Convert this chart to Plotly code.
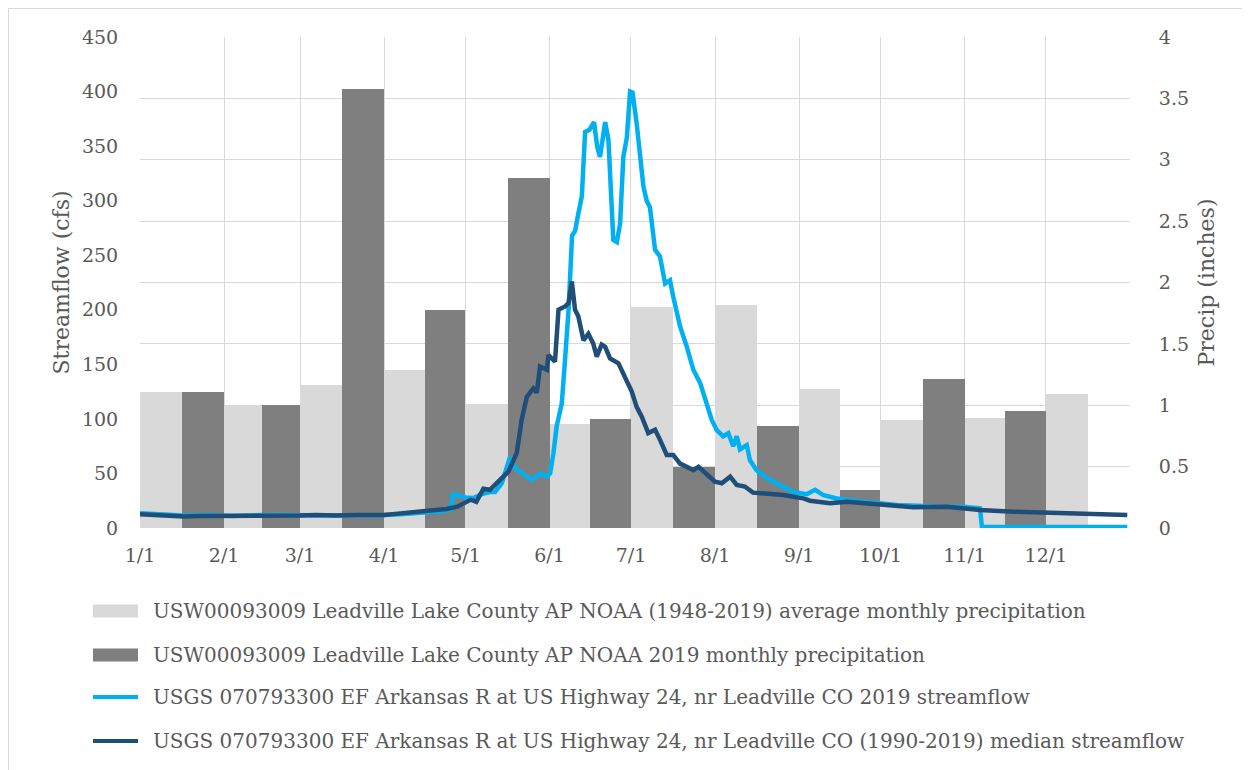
import plotly.graph_objects as go

# ---------------- data ----------------
month_labels = ["1/1", "2/1", "3/1", "4/1", "5/1", "6/1", "7/1", "8/1", "9/1", "10/1", "11/1", "12/1"]
month_start_day = [0, 31, 59, 90, 120, 151, 181, 212, 243, 273, 304, 334]
year_end_day = 365

# monthly precipitation (inches)
precip_avg = [1.11, 0.99, 1.165, 1.285, 1.01, 0.85, 1.80, 1.82, 1.135, 0.88, 0.90, 1.09]
precip_2019 = [1.11, 1.005, 3.575, 1.78, 2.85, 0.89, 0.50, 0.83, 0.31, 1.21, 0.95, None]

# 2019 streamflow (cfs), day of year
flow2019_day = [0, 8, 16, 25, 34, 46, 59, 72, 86, 96, 105, 112, 114.5, 115.5, 117.4, 120,
                122.9, 126, 129, 130.9, 133.4, 135.2, 136.4, 138.3, 141.3, 144.4, 147.5, 150,
                151.2, 152.4, 153.6, 155.5, 156.7, 158, 159.3, 160.4, 161.6, 162.9, 164.1, 165.7,
                167.4, 168.6, 169.6, 171.5, 172.7, 174.5, 175.8, 177, 178.2, 179.5, 180.7, 181.6,
                183.1, 184.4, 185.6, 186.8, 188, 189.9, 191.7, 193.6, 195.4, 196.6, 199.1, 201.6,
                204, 206.5, 209, 210.8, 212.6, 215, 216.9, 218.7, 220, 221.2, 223.7, 224.9,
                227.3, 231, 234.7, 238.4, 240.9, 245.8, 248.9, 252, 256.9, 266.7, 279, 291.3,
                303.6, 309.7, 310.4, 364]
flow2019_cfs = [13.5, 13, 11.5, 12, 11, 12, 11.5, 12, 11.5, 12.5, 14, 15.5, 17, 31, 30, 28,
                27.5, 31, 33, 33, 41, 56, 65, 55, 50, 44, 50, 47,
                50, 68, 93, 114, 154, 200, 268, 272, 288, 304, 363, 365,
                372, 349, 340, 372, 356, 264, 262, 279, 340, 358, 400, 399,
                371, 340, 313, 300, 294, 255, 249, 224, 227, 212, 185, 166,
                145, 133, 114, 99, 90, 84, 87, 75, 84, 72, 76, 62,
                53, 46, 41, 36, 33, 31, 35, 30, 27, 24, 21, 20,
                19.5, 18, 1, 1]

# 1990-2019 median streamflow (cfs), day of year
median_day = [0, 5, 10, 16, 22, 28, 34, 40, 46, 52, 59, 65, 72, 80, 86, 90, 96, 102, 108,
              113, 117, 120, 122, 124, 126.6, 129, 132.7, 135.8, 138.9, 140.7, 142.6, 145,
              146.3, 147.5, 150, 150.6, 153, 154.3, 156.7, 158, 159.2, 160.4, 161.6, 163.5,
              165.3, 167.1, 168.4, 170.2, 171.5, 173.3, 176.4, 178.8, 181.3, 183.1, 185, 187.4,
              189.9, 191.7, 194.2, 196.6, 199.1, 201.6, 204, 205.9, 209, 212, 214.5, 217.6,
              220, 223, 226, 229.8, 233.5, 237.2, 240.9, 244.6, 247, 254.4, 260.6, 272.9,
              285.1, 297.5, 309.7, 322, 334.3, 346.6, 355, 364]
median_cfs = [12.5, 12, 11.5, 10.5, 11, 11, 10.5, 11.5, 11, 11.5, 11.5, 12, 11.5, 12, 12, 12, 13.4, 15, 16,
              17.5, 19.5, 24, 26, 24, 36, 35, 44, 51.6, 68.7, 99, 120, 128,
              124, 148, 145, 158.6, 152.4, 200, 203, 206, 226, 200, 194, 172,
              178, 169, 157, 168, 166, 155.5, 151, 139, 125, 111, 102, 87,
              90, 81, 67, 67, 59, 56, 53, 56, 48.6, 42.4, 41, 47,
              39.4, 38, 32.4, 31.8, 30.2, 30.2, 28.7, 27.2, 25, 22.6, 24, 21,
              19, 19.5, 16.5, 15, 14, 13.4, 12, 12]

assert len(flow2019_day) == len(flow2019_cfs)
assert len(median_day) == len(median_cfs)

series_names = [
    "USW00093009 Leadville Lake County AP NOAA (1948-2019) average monthly precipitation",
    "USW00093009 Leadville Lake County AP NOAA 2019 monthly precipitation",
    "USGS 070793300 EF Arkansas R at US Highway 24, nr Leadville CO 2019 streamflow",
    "USGS 070793300 EF Arkansas R at US Highway 24, nr Leadville CO (1990-2019) median streamflow",
]

# ---------------- styling ----------------
C_LIGHT_BAR = "#D9D9D9"
C_DARK_BAR = "#7F7F7F"
C_FLOW = "#00B0F0"
C_MEDIAN = "#1F4E79"
C_TEXT = "#595959"
C_GRID = "#D9D9D9"
FONT = "DejaVu Serif"
FS_TICK = 19
FS_LEG = 20
FS_TITLE = 22

OFF = 8  # page body margin
W, H = 1250 - OFF, 770 - OFF
# plot area in screen pixels: x 140..1130, y 37..528
SX0, SX1, SY0, SY1 = 140, 1130, 37, 528
PW, PH = SX1 - SX0, SY1 - SY0
L, T = SX0 - OFF, SY0 - OFF
R, B = W - L - PW, H - T - PH


def px(x):
    return (x - SX0) / PW


def py(y):
    return (SY1 - y) / PH


# bar positions: each month split into two halves
bounds = month_start_day + [year_end_day]
mlen = [bounds[i + 1] - bounds[i] for i in range(12)]
x_avg = [bounds[i] + mlen[i] / 4 for i in range(12)]
x_2019 = [bounds[i] + 3 * mlen[i] / 4 for i in range(12)]
w_half = [m / 2 for m in mlen]

fig = go.Figure()
fig.add_trace(go.Bar(x=x_avg, y=precip_avg, width=w_half, marker=dict(color=C_LIGHT_BAR, line_width=0),
                     name=series_names[0], yaxis="y", showlegend=False))
fig.add_trace(go.Bar(x=x_2019, y=precip_2019, width=w_half, marker=dict(color=C_DARK_BAR, line_width=0),
                     name=series_names[1], yaxis="y", showlegend=False))
fig.add_trace(go.Scatter(x=flow2019_day, y=flow2019_cfs, mode="lines", line=dict(color=C_FLOW, width=4.5),
                         name=series_names[2], yaxis="y2", showlegend=False))
fig.add_trace(go.Scatter(x=median_day, y=median_cfs, mode="lines", line=dict(color=C_MEDIAN, width=4.5),
                         name=series_names[3], yaxis="y2", showlegend=False))

fig.update_layout(
    width=W, height=H,
    margin=dict(l=L, r=R, t=T, b=B, autoexpand=False),
    paper_bgcolor="white", plot_bgcolor="white",
    barmode="overlay", bargap=0,
    font=dict(family=FONT, size=FS_TICK, color=C_TEXT),
    xaxis=dict(range=[0, year_end_day], tickmode="array",
               tickvals=month_start_day + [year_end_day], ticktext=month_labels + [""],
               showgrid=True, gridcolor=C_GRID, gridwidth=1, zeroline=False, showline=False,
               ticks="outside", ticklen=10, tickcolor="rgba(0,0,0,0)",
               tickfont=dict(family=FONT, size=FS_TICK, color=C_TEXT)),
    yaxis=dict(range=[0, 4], dtick=0.5, side="right", showgrid=True, gridcolor=C_GRID, gridwidth=1,
               zeroline=False, showline=False, ticks="outside", ticklen=24, tickcolor="rgba(0,0,0,0)",
               tickfont=dict(family=FONT, size=FS_TICK, color=C_TEXT),
               title=dict(text="Precip (inches)", standoff=10,
                          font=dict(family=FONT, size=FS_TITLE, color=C_TEXT))),
    yaxis2=dict(range=[0, 450], dtick=50, side="left", overlaying="y", showgrid=False, zeroline=False,
                showline=False, ticks="outside", ticklen=17, tickcolor="rgba(0,0,0,0)",
                tickfont=dict(family=FONT, size=FS_TICK, color=C_TEXT),
                title=dict(text="Streamflow (cfs)", standoff=6,
                           font=dict(family=FONT, size=FS_TITLE, color=C_TEXT))),
)

shapes = []
# chart border (left & top)
shapes.append(dict(type="line", xref="paper", yref="paper", x0=px(8.5), x1=px(8.5), y0=py(780), y1=py(8.5),
                   line=dict(color=C_GRID, width=1)))
shapes.append(dict(type="line", xref="paper", yref="paper", x0=px(8.5), x1=px(1260), y0=py(8.5), y1=py(8.5),
                   line=dict(color=C_GRID, width=1)))

# manual legend
leg_y = [611, 655, 697, 741]
sx0, sx1, tx = 93, 138, 151
shapes.append(dict(type="rect", xref="paper", yref="paper", x0=px(sx0), x1=px(sx1),
                   y0=py(leg_y[0] + 6.5), y1=py(leg_y[0] - 6.5), fillcolor=C_LIGHT_BAR, line_width=0))
shapes.append(dict(type="rect", xref="paper", yref="paper", x0=px(sx0), x1=px(sx1),
                   y0=py(leg_y[1] + 6.5), y1=py(leg_y[1] - 6.5), fillcolor=C_DARK_BAR, line_width=0))
shapes.append(dict(type="line", xref="paper", yref="paper", x0=px(sx0), x1=px(sx1),
                   y0=py(leg_y[2]), y1=py(leg_y[2]), line=dict(color=C_FLOW, width=4)))
shapes.append(dict(type="line", xref="paper", yref="paper", x0=px(sx0), x1=px(sx1),
                   y0=py(leg_y[3]), y1=py(leg_y[3]), line=dict(color=C_MEDIAN, width=4)))
fig.update_layout(shapes=shapes)

for name, yy in zip(series_names, leg_y):
    fig.add_annotation(text=name, xref="paper", yref="paper", x=px(tx), y=py(yy),
                       xanchor="left", yanchor="middle", showarrow=False,
                       font=dict(family=FONT, size=FS_LEG, color=C_TEXT))

fig.write_html("out.html")
